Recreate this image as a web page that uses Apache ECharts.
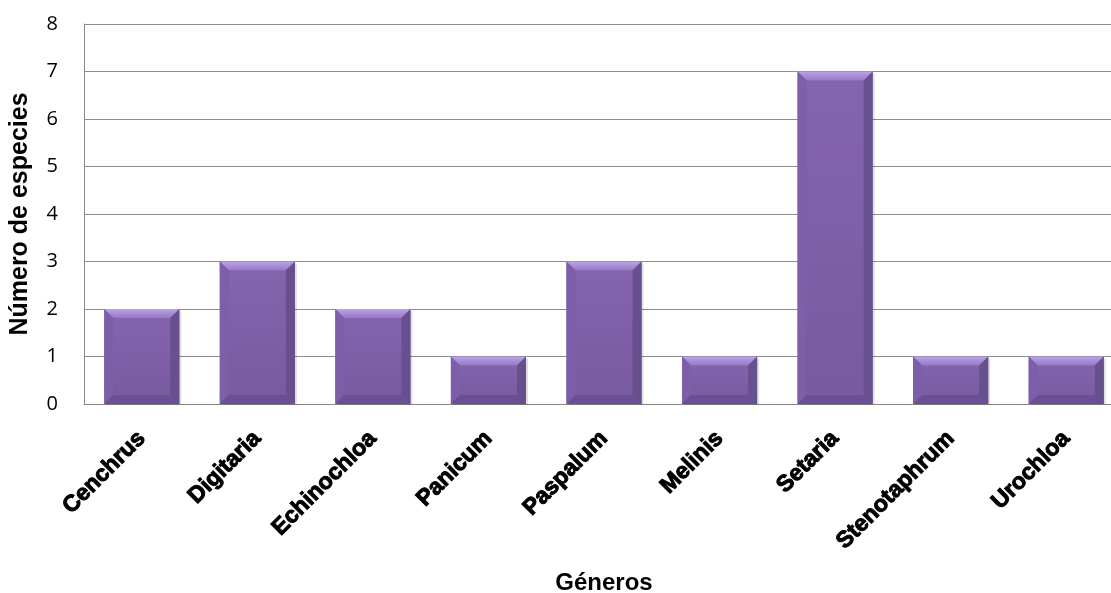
<!DOCTYPE html>
<html>
<head>
<meta charset="utf-8">
<script src="https://cdn.jsdelivr.net/npm/echarts@6/dist/echarts.min.js"></script>
<style>
  html, body { margin: 0; padding: 0; background: #fff; }
  #chart { width: 1111px; height: 593px; }
</style>
</head>
<body>
<div id="chart"></div>
<script>
// data
var generos = ['Cenchrus', 'Digitaria', 'Echinochloa', 'Panicum', 'Paspalum', 'Melinis', 'Setaria', 'Stenotaphrum', 'Urochloa'];
var especies = [2, 3, 2, 1, 3, 1, 7, 1, 1];
var yTicks = [0, 1, 2, 3, 4, 5, 6, 7, 8];

var chart = echarts.init(document.getElementById('chart'), null, {renderer: 'canvas'});

// bevelled bar, like the office "3D" look
function renderBar(params, api) {
  var idx = api.value(0), v = api.value(1);
  var top = api.coord([idx, v]);
  var base = api.coord([idx, 0]);
  var bw = api.size([1, 0])[0] * 0.65;
  var l = top[0] - bw / 2, r = l + bw, t = top[1], b = base[1];
  var bev = Math.min(9, (b - t) / 3);
  return {
    type: 'group',
    children: [
      {type: 'rect', shape: {x: l + 2, y: t + 2, width: bw, height: b - t - 1},
       style: {fill: 'rgba(0,0,0,0.12)'}},
      {type: 'rect', shape: {x: l, y: t, width: bw, height: b - t},
       style: {fill: new echarts.graphic.LinearGradient(0, 0, 0, 1, [
         {offset: 0, color: '#8564ae'}, {offset: 1, color: '#785aa0'}])}},
      {type: 'polygon', shape: {points: [[l, t], [r, t], [r - bev, t + bev], [l + bev, t + bev]]},
       style: {fill: new echarts.graphic.LinearGradient(0, 0, 0, 1, [
         {offset: 0, color: '#bba2ea'}, {offset: 1, color: '#9479c4'}])}},
      {type: 'polygon', shape: {points: [[l, t], [l + bev, t + bev], [l + bev, b - bev], [l, b]]},
       style: {fill: '#7c5fa8'}},
      {type: 'polygon', shape: {points: [[r, t], [r, b], [r - bev, b - bev], [r - bev, t + bev]]},
       style: {fill: '#68508f'}},
      {type: 'polygon', shape: {points: [[l, b], [l + bev, b - bev], [r - bev, b - bev], [r, b]]},
       style: {fill: '#6a5092'}}
    ]
  };
}

var option = {
  animation: false,
  // plot runs past the right edge in the reference
  grid: {left: 84, width: 1040, top: 24, bottom: 189, outerBoundsMode: 'none', containLabel: false},
  xAxis: {
    type: 'category',
    data: generos,
    name: 'Géneros',
    nameLocation: 'middle',
    nameGap: 167,
    nameTextStyle: {fontFamily: 'Liberation Sans', fontWeight: 'bold', fontSize: 24, color: '#000'},
    axisLine: {lineStyle: {color: '#888', width: 1}},
    axisTick: {show: false},
    axisLabel: {
      interval: 0, rotate: 45, margin: 31,
      fontFamily: 'Liberation Sans', fontWeight: 'bold', fontSize: 23, color: '#000',
      textBorderColor: '#000', textBorderWidth: 1
    }
  },
  yAxis: {
    type: 'value',
    min: yTicks[0], max: yTicks[yTicks.length - 1], interval: 1,
    name: 'Número de especies',
    nameLocation: 'middle',
    nameGap: 51,
    nameTextStyle: {fontFamily: 'Liberation Sans', fontWeight: 'bold', fontSize: 25, color: '#000'},
    axisLine: {show: true, lineStyle: {color: '#888', width: 1}},
    axisTick: {show: false},
    axisLabel: {margin: 26, fontFamily: 'Open Sans', fontSize: 20, color: '#000'},
    splitLine: {lineStyle: {color: '#8c8c8c', width: 1}}
  },
  series: [{
    type: 'custom',
    renderItem: renderBar,
    encode: {x: 0, y: 1},
    data: especies.map(function (v, i) { return [i, v]; })
  }]
};
chart.setOption(option);
</script>
</body>
</html>
